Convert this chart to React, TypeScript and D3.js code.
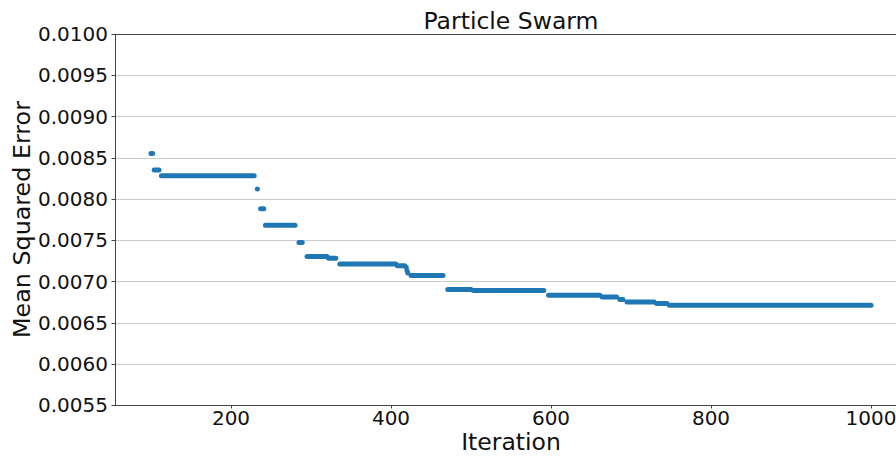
import React from "react";
import * as d3 from "d3";

// Step segments of the best-so-far MSE: [start iteration, end iteration, value]
const segStart = [100, 104, 113, 233, 237, 243, 285, 295, 322, 336, 408, 419, 420, 421, 425, 471, 503, 597, 664, 686, 695, 732, 748];
const segEnd =   [102, 110, 229, 233, 241, 280, 289, 320, 331, 406, 417, 419, 420, 421, 465, 500, 591, 661, 682, 690, 729, 745, 1000];
const segValue = [0.00855, 0.00835, 0.00828, 0.00812, 0.00788, 0.00768, 0.00747, 0.00730, 0.00728, 0.00721, 0.00719, 0.00717, 0.00713, 0.00710, 0.00707, 0.00690, 0.00689, 0.00683, 0.00681, 0.00678, 0.00675, 0.00673, 0.00671];

const xTicks = [200, 400, 600, 800, 1000];
const yTicks = [0.0055, 0.006, 0.0065, 0.007, 0.0075, 0.008, 0.0085, 0.009, 0.0095, 0.01];

const W = 896;
const H = 456;
const left = 115;
const right = 907;
const top = 34;
const bottom = 405;

export default function App() {
  const x = d3.scaleLinear().domain([55, 1045]).range([left, right]);
  const y = d3.scaleLinear().domain([0.0055, 0.01]).range([bottom, top]);
  const font = "'DejaVu Sans', sans-serif";
  const color = "#1f77b4";
  const segs = segStart.map((s, i) => ({ s, e: segEnd[i], v: segValue[i] }));

  return (
    <>
      <style>{`body{margin:0}`}</style>
      <svg width={W} height={H} style={{ display: "block", background: "#fff" }} fontFamily={font}>
        {/* grid */}
        {yTicks.map((t) => (
          <line key={"g" + t} x1={left} x2={right} y1={Math.round(y(t)) + 0.5} y2={Math.round(y(t)) + 0.5} stroke="#cccccc" strokeWidth={1} />
        ))}
        {/* data */}
        {segs.map((d, i) => (
          <line
            key={"s" + i}
            x1={x(d.s)}
            x2={x(d.e)}
            y1={y(d.v)}
            y2={y(d.v)}
            stroke={color}
            strokeWidth={5}
            strokeLinecap="round"
          />
        ))}
        {/* spines */}
        <line x1={left + 0.5} x2={left + 0.5} y1={top} y2={bottom + 0.5} stroke="#444" strokeWidth={1} />
        <line x1={left} x2={right} y1={bottom + 0.5} y2={bottom + 0.5} stroke="#444" strokeWidth={1} />
        <line x1={left} x2={right} y1={top + 0.5} y2={top + 0.5} stroke="#444" strokeWidth={1} />
        <line x1={right - 0.5} x2={right - 0.5} y1={top} y2={bottom} stroke="#444" strokeWidth={1} />
        {/* y ticks */}
        {yTicks.map((t) => (
          <g key={"y" + t}>
            <line x1={left - 3.5} x2={left} y1={Math.round(y(t)) + 0.5} y2={Math.round(y(t)) + 0.5} stroke="#444" strokeWidth={1} />
            <text x={left - 7} y={y(t)} dy="0.36em" textAnchor="end" fontSize={20} fill="#111">
              {d3.format(".4f")(t)}
            </text>
          </g>
        ))}
        {/* x ticks */}
        {xTicks.map((t) => (
          <g key={"x" + t}>
            <line x1={Math.round(x(t)) + 0.5} x2={Math.round(x(t)) + 0.5} y1={bottom} y2={bottom + 3.5} stroke="#444" strokeWidth={1} />
            <text x={x(t)} y={424.5} textAnchor="middle" fontSize={20} fill="#111">
              {t}
            </text>
          </g>
        ))}
        {/* labels */}
        <text x={(left + right) / 2} y={29} textAnchor="middle" fontSize={23.5} fill="#111">
          Particle Swarm
        </text>
        <text x={(left + right) / 2} y={450} textAnchor="middle" fontSize={23.5} fill="#111">
          Iteration
        </text>
        <text transform={`translate(30,${(top + bottom) / 2}) rotate(-90)`} textAnchor="middle" fontSize={23.8} fill="#111">
          Mean Squared Error
        </text>
      </svg>
    </>
  );
}
